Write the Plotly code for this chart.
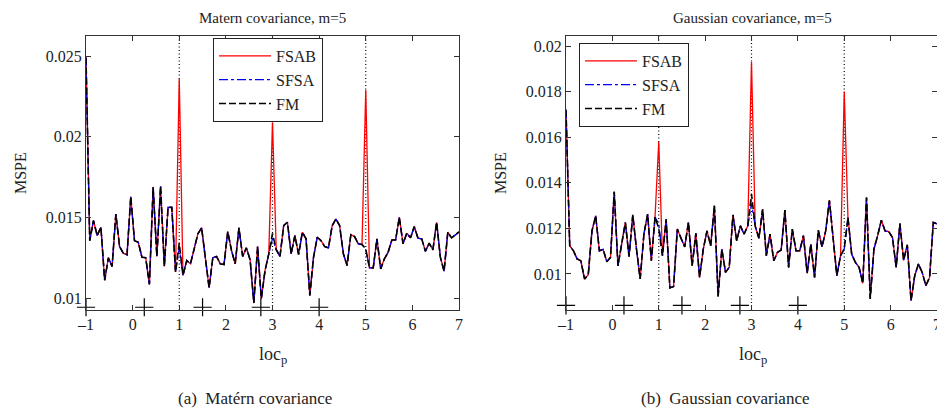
import plotly.graph_objects as go

# ---------------- data ----------------
n_pts = 101
loc_p = [round(-1 + 0.08 * i, 2) for i in range(n_pts)]

# Matern covariance (left) - FM baseline
matern_fm = [
    0.0249, 0.01356, 0.0148, 0.01387, 0.01439, 0.0111, 0.0125, 0.01196, 0.01521, 0.01319,
    0.01278, 0.01268, 0.01628, 0.01356, 0.01346, 0.01253, 0.0125, 0.01085, 0.01686, 0.01258,
    0.01692, 0.01196, 0.01562, 0.01562, 0.01161, 0.0134, 0.0114, 0.01233, 0.01212, 0.01305,
    0.01398, 0.01435, 0.01233, 0.01064, 0.0125, 0.01258, 0.01212, 0.01208, 0.01412, 0.01295,
    0.01212, 0.01435, 0.01258, 0.01311, 0.01237, 0.00969, 0.01319, 0.00996, 0.01171, 0.01274,
    0.0140, 0.0130, 0.01258, 0.01449, 0.0147, 0.01274, 0.01387, 0.0127, 0.01408, 0.01367,
    0.01016, 0.01253, 0.01377, 0.01356, 0.01319, 0.01311, 0.01449, 0.0149, 0.01449, 0.01274,
    0.01202, 0.01393, 0.01381, 0.01336, 0.01332, 0.01305, 0.01187, 0.01187, 0.01367, 0.01181,
    0.01243, 0.01284, 0.0136, 0.0136, 0.0150, 0.01336, 0.01402, 0.01373, 0.01443, 0.01371,
    0.01367, 0.0129, 0.0134, 0.01299, 0.0147, 0.01253, 0.01167, 0.01408, 0.01373, 0.0139,
    0.0141,
]
matern_sfsa_diff = {25: 0.0131, 50: 0.0137, 75: 0.0130}
matern_fsab_diff = {25: 0.0236, 50: 0.0209, 75: 0.0229}

# Gaussian covariance (right) - FM baseline
gauss_fm = [
    0.0172, 0.01124, 0.01102, 0.01066, 0.01058, 0.00978, 0.00997, 0.01189, 0.01255, 0.01102,
    0.01108, 0.01054, 0.01073, 0.01361, 0.01036, 0.01124, 0.01226, 0.01076, 0.01259, 0.01109,
    0.00978, 0.01175, 0.01262, 0.01058, 0.0125, 0.0120, 0.0108, 0.0124, 0.00939, 0.00945,
    0.01197, 0.01157, 0.01119, 0.01226, 0.01036, 0.01178, 0.00985, 0.01109, 0.01189, 0.01124,
    0.01299, 0.00901, 0.01109, 0.01007, 0.01029, 0.01259, 0.01146, 0.01211, 0.01175, 0.01211,
    0.0135, 0.0121, 0.01157, 0.01284, 0.0108, 0.01175, 0.01058, 0.01095, 0.01105, 0.0128,
    0.01029, 0.01197, 0.01102, 0.01102, 0.01168, 0.01003, 0.01131, 0.00985, 0.01192, 0.01119,
    0.01189, 0.01323, 0.0116, 0.00993, 0.0108, 0.0111, 0.01248, 0.01087, 0.01051, 0.01029,
    0.00959, 0.01335, 0.00891, 0.01109, 0.01168, 0.01236, 0.01189, 0.01186, 0.0116, 0.01029,
    0.01221, 0.01061, 0.01128, 0.00883, 0.00993, 0.01044, 0.01007, 0.00949, 0.00985, 0.01226,
    0.0122,
]
gauss_sfsa_diff = {25: 0.0122, 50: 0.0131, 75: 0.0111}
gauss_fsab_diff = {25: 0.0158, 50: 0.0193, 75: 0.0180}

# marker ("+") positions and dotted reference lines
plus_x = [-1, 0.25, 1.5, 2.75, 4]
plus_y_left = 0.00943
plus_y_right = 0.00862
vlines = [1, 3, 5]

x_ticks = [-1, 0, 1, 2, 3, 4, 5, 6, 7]
x_ticktext = ["\u20131", "0", "1", "2", "3", "4", "5", "6", "7"]
y_ticks_left = [0.01, 0.015, 0.02, 0.025]
y_ticktext_left = ["0.01", "0.015", "0.02", "0.025"]
y_ticks_right = [0.01, 0.012, 0.014, 0.016, 0.018, 0.02]
y_ticktext_right = ["0.01", "0.012", "0.014", "0.016", "0.018", "0.02"]


def apply(base, diff):
    out = list(base)
    for k, v in diff.items():
        out[k] = v
    return out


matern_sfsa = apply(matern_fm, matern_sfsa_diff)
matern_fsab = apply(matern_fm, matern_fsab_diff)
gauss_sfsa = apply(gauss_fm, gauss_sfsa_diff)
gauss_fsab = apply(gauss_fm, gauss_fsab_diff)

FONT = "Liberation Serif, DejaVu Serif, Times New Roman, serif"
TXT = "#222222"
W, H = 937, 410

fig = go.Figure()

panels = [
    ("x", "y", "legend", matern_fsab, matern_sfsa, matern_fm, plus_y_left),
    ("x2", "y2", "legend2", gauss_fsab, gauss_sfsa, gauss_fm, plus_y_right),
]
for xa, ya, lg, fsab, sfsa, fm, py in panels:
    for v in vlines:
        fig.add_shape(type="line", x0=v, x1=v, y0=0, y1=1, xref=xa, yref=f"{ya} domain",
                      line=dict(color="black", width=1.2, dash="1px,2.5px"), layer="below")
    fig.add_trace(go.Scatter(x=loc_p, y=fsab, mode="lines", name="FSAB",
                             line=dict(color="#ff0000", width=1.3),
                             xaxis=xa, yaxis=ya, legend=lg))
    fig.add_trace(go.Scatter(x=loc_p, y=sfsa, mode="lines", name="SFSA",
                             line=dict(color="#0000ff", width=1.3, dash="dashdot"),
                             xaxis=xa, yaxis=ya, legend=lg))
    fig.add_trace(go.Scatter(x=loc_p, y=fm, mode="lines", name="FM",
                             line=dict(color="#000000", width=1.6, dash="7px,3px"),
                             xaxis=xa, yaxis=ya, legend=lg))
    fig.add_trace(go.Scatter(x=plus_x, y=[py] * len(plus_x), mode="markers",
                             marker=dict(symbol="cross-thin", size=13,
                                         line=dict(color="black", width=1.2)),
                             showlegend=False, xaxis=xa, yaxis=ya, cliponaxis=False))

axis_common = dict(showline=True, linecolor="#333333", linewidth=1, mirror="ticks",
                   ticks="inside", ticklen=5, tickcolor="#333333", showgrid=False,
                   zeroline=False, automargin=False, ticklabeloverflow="allow",
                   tickfont=dict(family=FONT, size=16, color=TXT))

ml, mr_l = 86, 459
ml2 = 566
top, bottom = 36, 310

legend_common = dict(xref="paper", yref="paper", xanchor="left", yanchor="top",
                     bgcolor="white", bordercolor="#222222", borderwidth=1,
                     font=dict(family=FONT, size=16, color=TXT),
                     tracegroupgap=0, itemwidth=52)

fig.update_layout(
    width=W, height=H,
    margin=dict(l=0, r=0, t=top, b=H - bottom, autoexpand=False),
    paper_bgcolor="white", plot_bgcolor="white",
    font=dict(family=FONT, size=15, color=TXT),
    xaxis=dict(domain=[ml / W, mr_l / W], range=[-1, 7], tickvals=x_ticks,
               ticktext=x_ticktext, anchor="y", **axis_common),
    yaxis=dict(domain=[0, 1], range=[0.00926, 0.02624], tickvals=y_ticks_left,
               ticktext=y_ticktext_left, anchor="x", **axis_common),
    xaxis2=dict(domain=[ml2 / W, 1.0], range=[-1, 7], tickvals=x_ticks,
                ticktext=x_ticktext, anchor="y2", **axis_common),
    yaxis2=dict(domain=[0, 1], range=[0.00842, 0.02044], tickvals=y_ticks_right,
                ticktext=y_ticktext_right, anchor="x2", **axis_common),
    legend=dict(x=213 / W, y=1 - 2 / (bottom - top), **legend_common),
    legend2=dict(x=579 / W, y=1 - 7 / (bottom - top), **legend_common),
    showlegend=True,
)


def py_paper(ypix):
    return (bottom - ypix) / (bottom - top)


# titles, axis labels, captions (x center px, y center px, size)
ann = [
    ("Matern covariance, m=5", (ml + mr_l) / 2, 18, 15),
    ("Gaussian covariance, m=5", (ml2 + 939) / 2, 18, 15),
    ("loc<sub>p</sub>", (ml + mr_l) / 2, 355, 18),
    ("loc<sub>p</sub>", (ml2 + 939) / 2, 355, 18),
    ("(a)  Matérn covariance", 255, 398, 17),
    ("(b)  Gaussian covariance", 725, 398, 17),
]
for text, xp, yp, size in ann:
    fig.add_annotation(text=text, x=xp / W, y=py_paper(yp), xref="paper", yref="paper",
                       showarrow=False, xanchor="center", yanchor="middle",
                       font=dict(family=FONT, size=size, color=TXT))
for xpix in (20, 500):
    fig.add_annotation(text="MSPE", x=xpix / W, y=py_paper(173), xref="paper", yref="paper",
                       showarrow=False, textangle=-90, xanchor="center", yanchor="middle",
                       font=dict(family=FONT, size=16, color=TXT))

fig.write_html("out.html")
